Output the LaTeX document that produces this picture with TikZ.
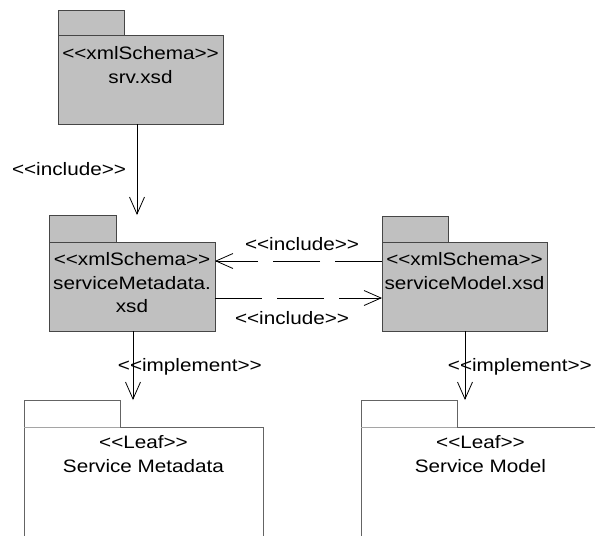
\documentclass[tikz,border=0pt]{standalone}
\usepackage{fontspec}
\setmainfont{Liberation Sans}[FakeStretch=1.15, Ligatures=TeXOff]
\usetikzlibrary{arrows.meta}
\definecolor{pkggray}{RGB}{192,192,192}
\definecolor{pkgline}{RGB}{70,70,70}
\definecolor{leafline}{RGB}{100,100,100}
\definecolor{sepline}{RGB}{165,165,165}
\begin{document}
\begin{tikzpicture}[x=1pt,y=-1pt,
  font=\fontsize{18pt}{23.5pt}\selectfont,
  pkgbody/.style={draw=pkgline, fill=pkggray, line width=1pt, inner sep=0pt, outer sep=0pt, anchor=north west},
  pkgtab/.style={draw=pkgline, fill=pkggray, line width=1pt, inner sep=0pt, outer sep=0pt, anchor=south west, minimum width=66pt, minimum height=26pt},
  leafbody/.style={draw=leafline, fill=white, line width=1pt, inner sep=0pt, outer sep=0pt, anchor=north west, minimum width=239pt, minimum height=140pt},
  leaftab/.style={draw=leafline, fill=white, line width=1pt, inner sep=0pt, outer sep=0pt, anchor=south west, minimum width=96pt, minimum height=27pt},
  sep/.style={draw=sepline, line width=1pt},
  pkgtext/.style={align=center, anchor=north, inner sep=0pt},
  lbl/.style={inner sep=0pt},
  dep/.style={draw=black, line width=0.8pt, -{Straight Barb[length=17pt, width=15pt, line width=0.8pt]}},
  dashdep/.style={dep, dash pattern=on 47pt off 15pt}
]
\useasboundingbox (0,0) rectangle (595,536);

% srv.xsd
\node[pkgbody, minimum width=165pt, minimum height=89pt] (srv) at (58,35) {};
\node[pkgtab, minimum height=25pt] (srvtab) at (srv.north west) {};
\node[pkgtext] (srvtxt) at ([yshift=-11.5pt]srv.north) {<<xmlSchema>>\\srv.xsd};

% serviceMetadata.xsd
\node[pkgbody, minimum width=166pt, minimum height=89pt] (smeta) at (49,242) {};
\node[pkgtab, minimum width=67pt, minimum height=27pt] (smetatab) at (smeta.north west) {};
\node[pkgtext] (smetatxt) at ([yshift=-10.5pt]smeta.north) {<<xmlSchema>>\\serviceMetadata.\\xsd};

% serviceModel.xsd
\node[pkgbody, minimum width=165pt, minimum height=89pt] (smodel) at (382,242) {};
\node[pkgtab] (smodeltab) at (smodel.north west) {};
\node[pkgtext] (smodeltxt) at ([yshift=-10.5pt]smodel.north) {<<xmlSchema>>\\serviceModel.xsd};

% Leaf Service Metadata
\node[leafbody] (lmeta) at (24,427) {};
\node[leaftab] (lmetatab) at (lmeta.north west) {};
\draw[sep] (lmetatab.south west) -- (lmetatab.south east);
\node[pkgtext] (lmetatxt) at ([yshift=-8.5pt]lmeta.north) {<<Leaf>>\\Service Metadata};

% Leaf Service Model
\node[leafbody] (lmodel) at (361,427) {};
\node[leaftab] (lmodeltab) at (lmodel.north west) {};
\draw[sep] (lmodeltab.south west) -- (lmodeltab.south east);
\node[pkgtext] (lmodeltxt) at ([yshift=-8.5pt]lmodel.north) {<<Leaf>>\\Service Model};

% connectors
\draw[dep] ([xshift=-3.5pt]srv.south) -- ([xshift=5pt]smeta.north |- smetatab.north);
\node[lbl] (l1) at (69,169) {<<include>>};

\draw[dashdep] ([yshift=-19pt]smodel.north west) -- ([yshift=-19pt]smeta.north east);
\node[lbl] (l2) at (302,244) {<<include>>};

\draw[dashdep] ([yshift=-56pt]smeta.north east) -- ([yshift=-56pt]smodel.north west);
\node[lbl] (l3) at (292,318) {<<include>>};

\draw[dep] ([xshift=1pt]smeta.south) -- ([xshift=1pt]smeta.south |- lmetatab.north);
\node[lbl, anchor=east] (l4) at (262,367) {<<implement>>};

\draw[dep] ([xshift=0.5pt]smodel.south) -- ([xshift=0.5pt]smodel.south |- lmodeltab.north);
\node[lbl, anchor=east] (l5) at (592,367) {<<implement>>};
\end{tikzpicture}
\end{document}
